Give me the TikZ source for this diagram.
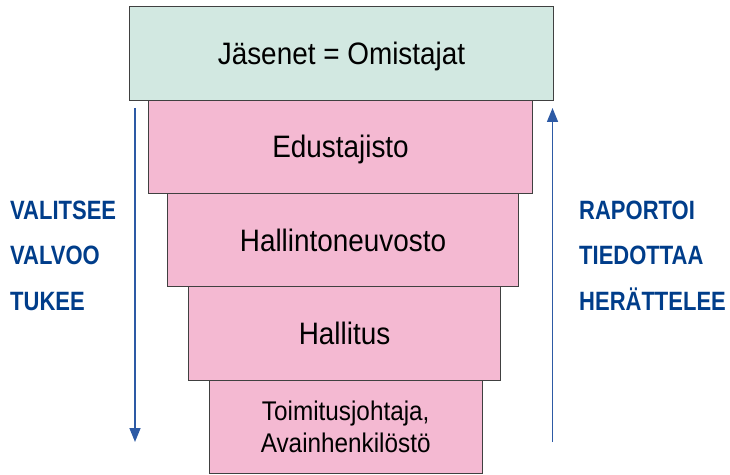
\documentclass[tikz,border=0pt]{standalone}
\usepackage{fontspec}
\setmainfont[FakeStretch=0.9]{Liberation Sans}
\newfontfamily\lblfont[FakeStretch=0.83]{Liberation Sans}
\usetikzlibrary{positioning,arrows.meta}

\definecolor{memberfill}{RGB}{210,232,225}
\definecolor{organfill}{RGB}{244,185,210}
\definecolor{orgblue}{RGB}{0,61,138}
\definecolor{arrowblue}{RGB}{45,90,165}

\tikzstyle{members} = [rectangle, minimum height=93.3pt, text centered, draw=black!75, line width=1pt, fill=memberfill, font=\fontsize{31}{37}\selectfont, text height=22pt, text depth=0pt, inner sep=0pt, outer sep=0pt]
\tikzstyle{organ} = [members, fill=organfill]
\tikzstyle{action} = [font=\lblfont\bfseries\fontsize{26.5}{32}\selectfont, text=orgblue, anchor=west, text height=19pt, text depth=0pt, inner sep=0pt]
\tikzstyle{flow} = [line width=1.5pt, draw=arrowblue, -{Triangle[length=14pt,width=11pt]}]

\begin{document}
\begin{tikzpicture}[x=1pt, y=1pt, node distance=93.3pt]
	\useasboundingbox (0,0) rectangle (730,474);

	\node (jasenet) [members, minimum width=423.5pt] at (341.5,420.5) {Jäsenet = Omistajat};
	\node (edustajisto) [organ, minimum width=384.5pt, below of=jasenet, xshift=-1pt] {Edustajisto};
	\node (hallintoneuvosto) [organ, minimum width=351.5pt, below of=edustajisto, xshift=2.5pt] {Hallintoneuvosto};
	\node (hallitus) [organ, minimum width=312.7pt, below of=hallintoneuvosto, xshift=1.5pt] {Hallitus};
	\node (johto) [organ, minimum width=273pt, below of=hallitus, xshift=1.2pt, align=center, text height=, text depth=, font=\fontsize{27}{31.6}\selectfont] {Toimitusjohtaja,\\Avainhenkilöstö};

	\coordinate (downtop) at (135,366);
	\coordinate (downend) at (135,32);
	\coordinate (upstart) at (552.5,32);
	\coordinate (upend) at (552.5,366);
	\draw [flow] (downtop) -- (downend);
	\draw [flow] (upstart) -- (upend);

	\node (valitsee) [action] at (10,264.2) {VALITSEE};
	\node (valvoo) [action] at (10,218.5) {VALVOO};
	\node (tukee) [action] at (10,173.5) {TUKEE};
	\node (raportoi) [action] at (579,264.2) {RAPORTOI};
	\node (tiedottaa) [action] at (579,218.5) {TIEDOTTAA};
	\node (herattelee) [action] at (579,173.5) {HERÄTTELEE};

\end{tikzpicture}
\end{document}
